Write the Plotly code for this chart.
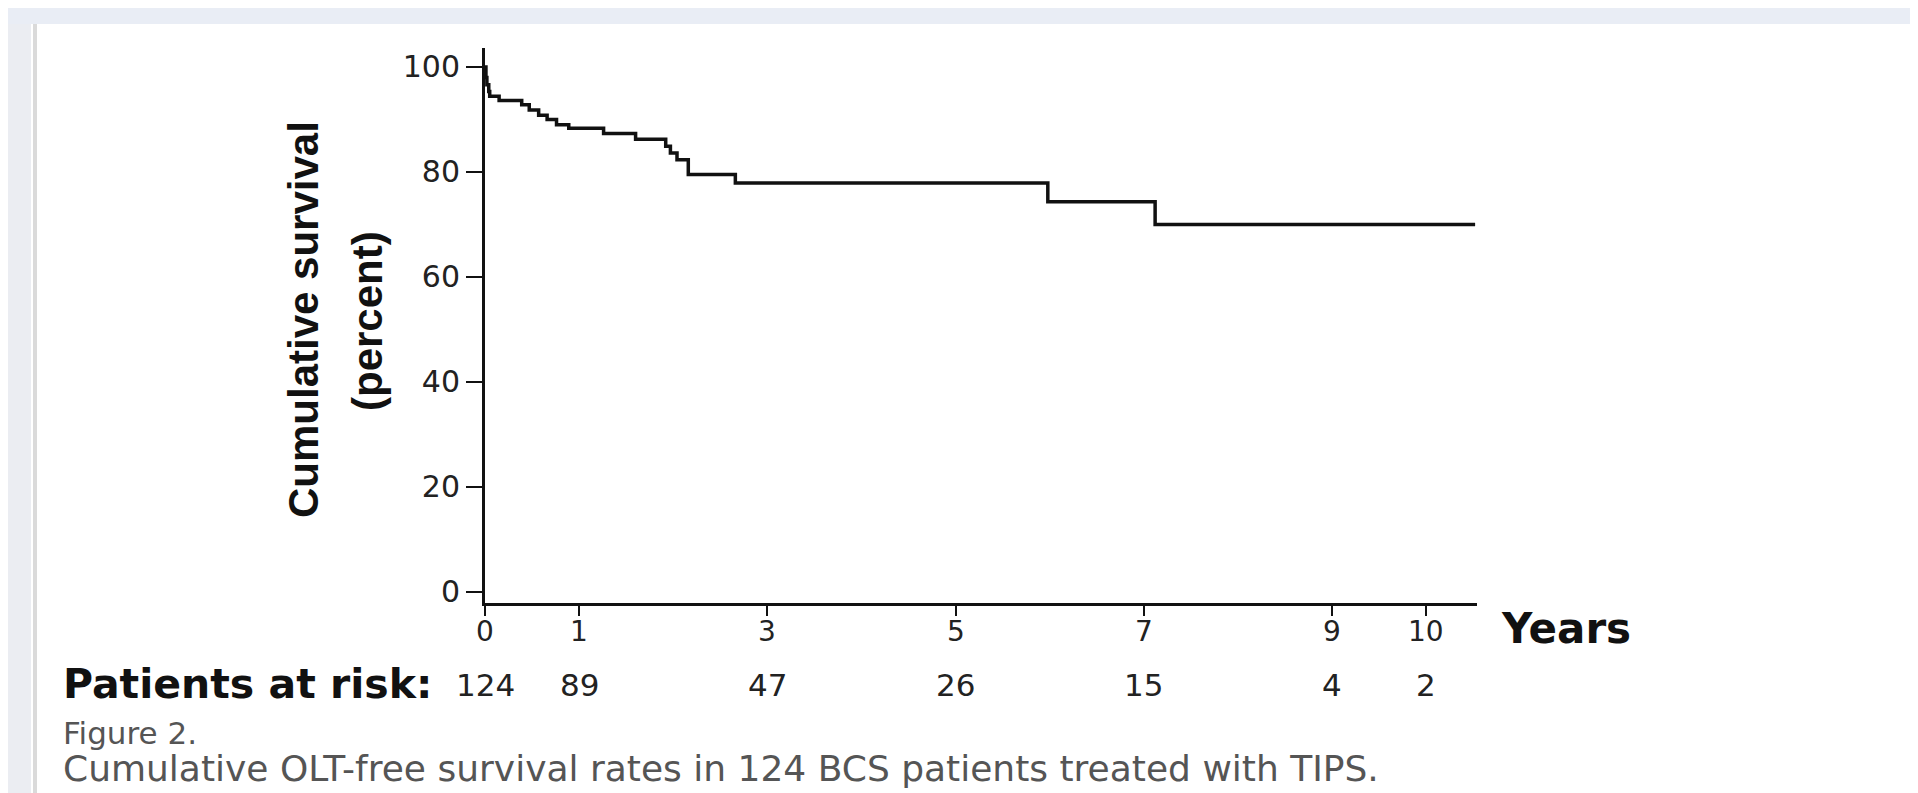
import plotly.graph_objects as go

# ---- data ----
time_years = [0, 0.01, 0.02, 0.04, 0.05, 0.15, 0.39, 0.47, 0.57, 0.66, 0.76, 0.89,
              1.26, 1.60, 1.92, 1.97, 2.04, 2.16, 2.66, 5.98, 7.12, 10.52]
survival_pct = [100, 98.0, 96.6, 95.3, 94.4, 93.6, 92.8, 91.8, 90.8, 90.0, 89.0, 88.3,
                87.3, 86.2, 84.9, 83.6, 82.3, 79.5, 77.9, 74.3, 70.0, 70.0]

x_ticks = [0, 1, 3, 5, 7, 9, 10]
x_tick_labels = ["0", "1", "3", "5", "7", "9", "10"]
y_ticks = [0, 20, 40, 60, 80, 100]
y_tick_labels = ["0", "20", "40", "60", "80", "100"]
at_risk_years = [0, 1, 3, 5, 7, 9, 10]
at_risk_counts = [124, 89, 47, 26, 15, 4, 2]

y_title_lines = ["Cumulative survival", "(percent)"]
x_title = "Years"
risk_label = "Patients at risk:"
fig_label = "Figure 2."
caption = "Cumulative OLT-free survival rates in 124 BCS patients treated with TIPS."

# ---- layout geometry ----
# The page body has an 8px margin, so the figure starts at page pixel (8, 8).
OFF = 8
PAGE_W, PAGE_H = 1918, 793
W, H = PAGE_W - OFF, PAGE_H - OFF
# plot area in page pixels
X0, X1, Y0, Y1 = 485, 1477, 48, 603
L, T = X0 - OFF, Y0 - OFF
R, B = W - (X1 - OFF), H - (Y1 - OFF)
PW, PH = X1 - X0, Y1 - Y0


def px(x):
    return (x - X0) / PW


def py(y):
    return (Y1 - y) / PH


fig = go.Figure()
fig.add_trace(go.Scatter(
    x=time_years, y=survival_pct, mode="lines", line_shape="hv",
    line=dict(color="#111111", width=3.5), showlegend=False, hoverinfo="skip"))

axis_font = dict(family="DejaVu Sans, Arial, sans-serif", size=30, color="#222222")

fig.update_layout(
    width=W, height=H,
    margin=dict(l=L, r=R, t=T, b=B, pad=0),
    paper_bgcolor="#E9EDF5", plot_bgcolor="white",
    xaxis=dict(range=[0, 10.54], tickvals=x_ticks, showticklabels=False,
               ticks="outside", ticklen=10, tickwidth=2, tickcolor="#111111",
               showline=True, linewidth=3, linecolor="#111111",
               showgrid=False, zeroline=False, fixedrange=True),
    yaxis=dict(range=[-2.1, 103.6], tickvals=y_ticks, ticktext=y_tick_labels,
               ticks="outside", ticklen=16, tickwidth=2, tickcolor="#111111",
               showline=True, linewidth=3, linecolor="#111111",
               showgrid=False, zeroline=False, tickfont=axis_font, fixedrange=True),
    shapes=[
        dict(type="rect", xref="paper", yref="paper", x0=px(0), x1=px(31), y0=py(PAGE_H + 10), y1=py(24),
             fillcolor="#EBEDF2", line=dict(width=0), layer="below"),
        dict(type="rect", xref="paper", yref="paper", x0=px(31), x1=px(PAGE_W + 10), y0=py(PAGE_H + 10), y1=py(24),
             fillcolor="white", line=dict(width=0), layer="below"),
        dict(type="line", xref="paper", yref="paper", x0=px(35), x1=px(35), y0=py(PAGE_H + 10), y1=py(24),
             line=dict(color="#DADADA", width=4), layer="below"),
    ],
)

title_font = dict(family="Liberation Sans, Arial, Helvetica, sans-serif", size=42,
                  color="#111111", weight="bold")
annotations = [
    dict(text=y_title_lines[0], x=px(303), y=py(320), xref="paper", yref="paper", showarrow=False,
         textangle=-90, xanchor="center", yanchor="middle", font=title_font),
    dict(text=y_title_lines[1], x=px(367), y=py(321), xref="paper", yref="paper", showarrow=False,
         textangle=-90, xanchor="center", yanchor="middle", font=title_font),
    dict(text=x_title, x=px(1499), y=py(628), xref="paper", yref="paper", showarrow=False,
         xanchor="left", yanchor="middle",
         font=dict(family="DejaVu Sans, Arial, sans-serif", size=42, color="#111111", weight="bold")),
    dict(text=risk_label, x=px(61), y=py(684), xref="paper", yref="paper", showarrow=False,
         xanchor="left", yanchor="middle",
         font=dict(family="DejaVu Sans, Arial, sans-serif", size=41, color="#111111", weight="bold")),
    dict(text=fig_label, x=px(61), y=py(733), xref="paper", yref="paper", showarrow=False,
         xanchor="left", yanchor="middle",
         font=dict(family="DejaVu Sans, Arial, sans-serif", size=31, color="#555555")),
    dict(text=caption, x=px(61), y=py(768), xref="paper", yref="paper", showarrow=False,
         xanchor="left", yanchor="middle",
         font=dict(family="DejaVu Sans, Arial, sans-serif", size=36, color="#555555")),
]
# x tick labels, placed on the x scale close to the axis as in the reference
for v, lab in zip(x_ticks, x_tick_labels):
    annotations.append(dict(text=lab, x=v, y=py(631), xref="x", yref="paper", showarrow=False,
                            xanchor="center", yanchor="middle",
                            font=dict(family="DejaVu Sans, Arial, sans-serif", size=28, color="#222222")))
for yr, n in zip(at_risk_years, at_risk_counts):
    annotations.append(dict(text=str(n), x=yr, y=py(685), xref="x", yref="paper", showarrow=False,
                            xanchor="center", yanchor="middle",
                            font=dict(family="DejaVu Sans, Arial, sans-serif", size=31, color="#222222")))
fig.update_layout(annotations=annotations)

fig.write_html("out.html", config={"displayModeBar": False})
